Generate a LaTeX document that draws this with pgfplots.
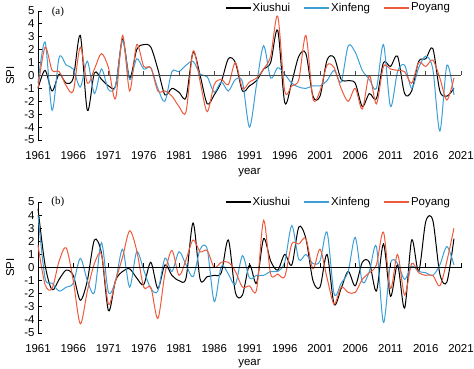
\documentclass[border=0pt]{standalone}
\usepackage{fontspec}
\setmainfont{Liberation Sans}
\newfontfamily\timesfont{Liberation Serif}
\usepackage{pgfplots}
\usepackage{pgfplotstable}
\pgfplotsset{compat=1.18}
\definecolor{cxiu}{RGB}{0,0,0}
\definecolor{cxin}{RGB}{60,160,215}
\definecolor{cpoy}{RGB}{240,90,60}

\pgfplotstableread{
year xiu xin poy
1961 -1.0 -0.6 -1.0
1962 0.4 2.6 2.2
1963 -1.2 -2.7 0.4
1964 0.1 1.4 0.3
1965 -0.6 0.8 -0.8
1966 -0.2 0.5 -1.2
1967 3.1 -0.9 2.2
1968 -2.7 1.1 -0.6
1969 0.2 -1.4 0.5
1970 -0.3 0.5 1.7
1971 -0.8 -1.1 0.6
1972 -0.8 -0.8 -1.8
1973 2.8 2.7 3.1
1974 -0.2 -0.3 -1.2
1975 2.0 1.3 2.4
1976 2.4 0.5 0.7
1977 2.2 0.6 0.6
1978 0.5 -1.0 -1.2
1979 -1.5 -2.0 -1.2
1980 -1.0 0.3 -1.6
1981 -1.3 0.3 -2.4
1982 -1.7 0.8 -2.8
1983 1.8 1.1 1.9
1984 0.0 0.1 -0.5
1985 -2.2 -0.1 -2.8
1986 -1.5 -1.3 -0.7
1987 -0.5 -0.5 -0.3
1988 1.3 -1.2 -0.7
1989 1.0 -0.3 1.0
1990 -1.2 -0.5 -1.0
1991 -0.8 -4.0 -0.5
1992 -0.4 -0.7 -0.2
1993 0.5 2.3 0.5
1994 1.0 -0.2 1.5
1995 3.5 0.6 4.6
1996 -2.1 0.1 -1.2
1997 -0.5 -0.6 -0.8
1998 1.5 -0.9 -0.3
1999 1.7 -1.0 3.1
2000 -1.6 -0.8 -1.8
2001 -1.6 -0.8 -1.2
2002 1.2 -0.4 0.8
2003 1.4 0.4 0.6
2004 -0.3 -0.5 -1.0
2005 -0.4 2.3 -2.0
2006 -0.6 1.8 -1.0
2007 -2.4 0.4 -2.6
2008 -1.4 -0.3 0.0
2009 -1.8 -1.0 -2.2
2010 1.0 2.4 0.7
2011 0.7 -2.4 0.5
2012 1.5 0.3 0.4
2013 -1.4 0.8 0.3
2014 -1.2 -1.0 -0.6
2015 1.1 0.6 1.0
2016 1.3 1.5 0.7
2017 2.1 0.5 1.2
2018 -1.2 -4.3 -0.2
2019 -1.6 0.8 -1.9
2020 -1.0 -1.5 -0.2
}\topdata

\pgfplotstableread{
year xiu xin poy
1961 4.5 4.0 1.7
1962 0.2 -0.8 -1.3
1963 -1.7 -1.2 -1.6
1964 -0.9 -1.8 0.5
1965 -0.2 -1.5 1.5
1966 -0.6 -1.2 -1.0
1967 -2.5 0.7 -4.3
1968 -1.0 -1.0 -1.8
1969 2.1 -1.9 0.3
1970 1.1 1.9 1.0
1971 -3.3 -1.9 -2.8
1972 -1.0 -1.0 -1.0
1973 -0.3 1.4 0.8
1974 -0.1 -1.5 2.8
1975 -0.8 1.2 1.3
1976 -1.3 -0.2 -1.5
1977 0.4 -1.6 -1.5
1978 -1.6 -1.8 -3.9
1979 0.2 0.7 -0.5
1980 -0.6 -0.3 1.3
1981 -1.0 1.2 -0.6
1982 -0.8 0.2 0.6
1983 3.4 -0.7 2.1
1984 -0.9 1.4 1.2
1985 -0.7 1.4 1.3
1986 -0.6 -2.6 0.0
1987 -0.4 0.1 0.4
1988 2.1 -0.5 0.4
1989 -1.9 -1.3 -0.3
1990 -2.1 0.9 -1.5
1991 0.2 -0.8 -1.4
1992 -1.2 -0.6 -1.7
1993 2.2 -0.6 3.6
1994 0.5 -0.3 -0.5
1995 -0.2 -0.3 -0.5
1996 1.0 0.4 -0.7
1997 0.2 3.2 1.8
1998 3.1 0.6 1.8
1999 2.2 1.0 2.2
2000 -1.0 0.3 -0.1
2001 -1.5 0.5 1.4
2002 1.0 2.7 -0.8
2003 -2.8 -2.0 -2.8
2004 -1.6 -1.2 -1.5
2005 -0.3 -0.3 -1.9
2006 -1.4 2.3 -1.9
2007 0.4 -1.1 -0.9
2008 0.4 -0.3 -0.4
2009 -1.8 1.6 0.2
2010 1.8 -4.2 2.7
2011 -2.2 0.3 -1.6
2012 0.2 0.3 1.0
2013 -3.1 -0.9 -2.1
2014 2.1 0.1 0.3
2015 -0.3 -0.3 -0.4
2016 3.5 -0.4 -0.6
2017 3.6 -0.6 -0.6
2018 -0.5 0.2 -1.4
2019 -1.1 1.6 0.5
2020 2.2 0.2 3.0
}\botdata

\pgfplotsset{spi/.style={
  scale only axis, width=423bp,
  xmin=1961, xmax=2021, ymin=-5, ymax=5,
  clip=false,
  axis y line*=left, axis x line*=bottom,
  x axis line style={draw=none},
  y axis line style={line width=0.9bp, black},
  xtick={1961,1966,...,2021},
  ytick={-5,-4,...,5},
  major x tick style={draw=none},
  major y tick style={black, line width=0.8bp},
  major tick length=3.5bp,
  tick align=inside,
  /pgf/number format/1000 sep={},
  /pgf/number format/assume math mode=true,
  tick label style={font=\fontsize{11.5}{13}\selectfont},
  xticklabel style={yshift=-8bp},
  label style={font=\fontsize{11.5}{13}\selectfont},
  xlabel={year}, ylabel={SPI},
  ylabel style={at={(axis description cs:-0.066,0.5)}, anchor=center},
  legend columns=3,
  legend style={draw=none, fill=none, inner sep=0pt,
    font=\fontsize{11.5}{13}\selectfont, anchor=east,
    /tikz/every even column/.append style={column sep=12bp}},
  legend image code/.code={\fill[#1] (0bp,-0.55bp) rectangle (24bp,0.55bp);},
  every axis plot/.append style={line width=1bp},
}}

\begin{document}
\begin{tikzpicture}
\useasboundingbox (0,0) rectangle (474bp,369bp);
\begin{axis}[spi, at={(38bp,229bp)}, anchor=south west, height=129bp,
  xlabel style={at={(axis description cs:0.5,-0.25)}, anchor=center},
  legend style={at={(axis description cs:0.979,1.025)}}]
\addplot[cxiu, smooth] table[x=year, y=xiu] {\topdata};
\addlegendentry{Xiushui}
\addplot[cxin, smooth] table[x=year, y=xin] {\topdata};
\addlegendentry{Xinfeng}
\addplot[cpoy, smooth] table[x=year, y=poy] {\topdata};
\addlegendentry{Poyang}
\addplot[black!72, line width=1.5bp, forget plot] coordinates {(1961,0) (2021,0)};
\addplot[black!72, ycomb, line width=0.8bp, forget plot] coordinates {(1966,0.32) (1971,0.32) (1976,0.32) (1981,0.32) (1986,0.32) (1991,0.32) (1996,0.32) (2001,0.32) (2006,0.32) (2011,0.32) (2016,0.32) (2021,0.32)};
\node[font=\timesfont\fontsize{11}{12}\selectfont] at (rel axis cs:0.047,0.99) {(a)};
\end{axis}
\begin{axis}[spi, at={(38bp,36bp)}, anchor=south west, height=131bp,
  xlabel style={at={(axis description cs:0.5,-0.235)}, anchor=center},
  legend style={at={(axis description cs:0.979,1.0)}}]
\addplot[cxiu, smooth] table[x=year, y=xiu] {\botdata};
\addlegendentry{Xiushui}
\addplot[cxin, smooth] table[x=year, y=xin] {\botdata};
\addlegendentry{Xinfeng}
\addplot[cpoy, smooth] table[x=year, y=poy] {\botdata};
\addlegendentry{Poyang}
\addplot[black, line width=1bp, forget plot] coordinates {(1961,0) (2021,0)};
\addplot[black, ycomb, line width=0.8bp, forget plot] coordinates {(1966,0.32) (1971,0.32) (1976,0.32) (1981,0.32) (1986,0.32) (1991,0.32) (1996,0.32) (2001,0.32) (2006,0.32) (2011,0.32) (2016,0.32) (2021,0.32)};
\node[font=\timesfont\fontsize{11}{12}\selectfont] at (rel axis cs:0.047,1.0) {(b)};
\end{axis}
\end{tikzpicture}
\end{document}
